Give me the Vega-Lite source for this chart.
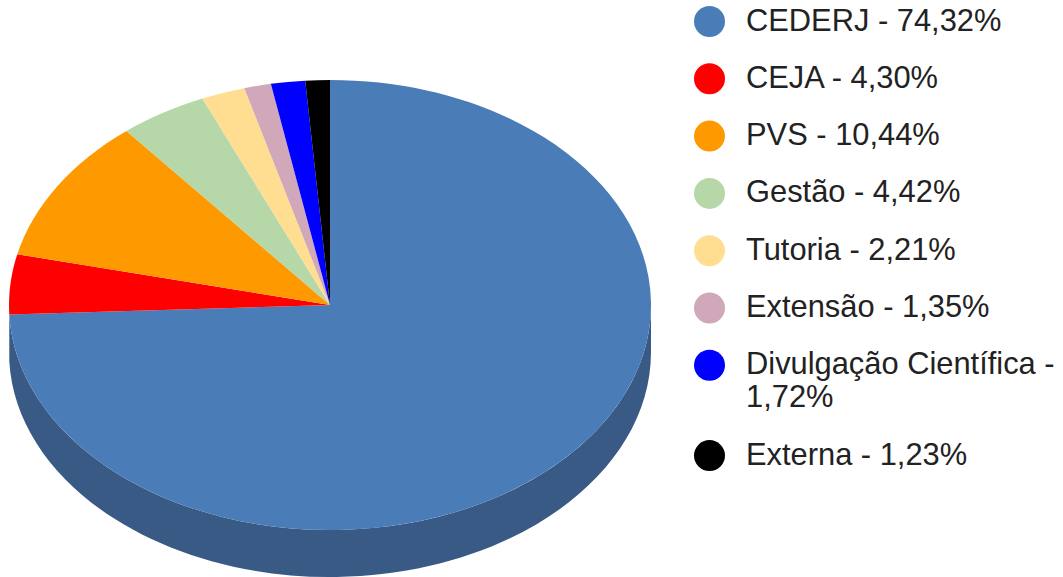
{
  "$schema": "https://vega.github.io/schema/vega-lite/v6.json",
  "width": 1063,
  "height": 577,
  "padding": 0,
  "autosize": {"type": "none"},
  "background": "white",
  "view": {"stroke": null},
  "data": {"values": [
    {"order": 1, "label": "CEDERJ - 74,32%", "value": 74.32},
    {"order": 2, "label": "CEJA - 4,30%", "value": 4.30},
    {"order": 3, "label": "PVS - 10,44%", "value": 10.44},
    {"order": 4, "label": "Gestão - 4,42%", "value": 4.42},
    {"order": 5, "label": "Tutoria - 2,21%", "value": 2.21},
    {"order": 6, "label": "Extensão - 1,35%", "value": 1.35},
    {"order": 7, "label": "Divulgação Científica - 1,72%", "value": 1.72},
    {"order": 8, "label": "Externa - 1,23%", "value": 1.23}
  ]},
  "transform": [
    {"joinaggregate": [{"op": "sum", "field": "value", "as": "total"}]},
    {"window": [{"op": "sum", "field": "value", "as": "cum"}], "sort": [{"field": "order", "order": "ascending"}], "frame": [null, 0]},
    {"calculate": "2*PI*(datum.cum-datum.value)/datum.total", "as": "t0"},
    {"calculate": "2*PI*datum.cum/datum.total", "as": "t1"},
    {"calculate": "321*sin(datum.t0)", "as": "x0"},
    {"calculate": "-225*cos(datum.t0)", "as": "y0"},
    {"calculate": "321*sin(datum.t1)", "as": "x1"},
    {"calculate": "-225*cos(datum.t1)", "as": "y1"},
    {"calculate": "'M0,0L'+datum.x0+','+datum.y0+'A321,225 0 '+(datum.t1-datum.t0>PI?1:0)+' 1 '+datum.x1+','+datum.y1+'Z'", "as": "top"},
    {"calculate": "'M321,0A321,225 0 0 1 '+datum.x1+','+datum.y1+'L'+datum.x1+','+(datum.y1+47)+'A321,225 0 0 0 321,47Z'", "as": "side"}
  ],
  "encoding": {
    "x": {"datum": 0, "type": "quantitative", "scale": {"domain": [-330, 733], "nice": false, "zero": false}, "axis": null},
    "y": {"datum": 0, "type": "quantitative", "scale": {"domain": [-272, 305], "nice": false, "zero": false}, "axis": null}
  },
  "layer": [
    {
      "transform": [{"filter": "datum.order === 1"}],
      "mark": {"type": "point", "filled": true, "opacity": 1, "size": 4, "fill": "#385a85", "stroke": null},
      "encoding": {
        "shape": {"field": "side", "type": "nominal", "scale": null, "legend": null}
      }
    },
    {
      "mark": {"type": "point", "filled": true, "opacity": 1, "size": 4, "stroke": null},
      "encoding": {
        "shape": {"field": "top", "type": "nominal", "scale": null, "legend": null},
        "color": {
          "field": "label",
          "type": "nominal",
          "sort": {"field": "order", "order": "ascending"},
          "scale": {
            "domain": ["CEDERJ - 74,32%", "CEJA - 4,30%", "PVS - 10,44%", "Gestão - 4,42%", "Tutoria - 2,21%", "Extensão - 1,35%", "Divulgação Científica - 1,72%", "Externa - 1,23%"],
            "range": ["#4a7cb8", "#ff0000", "#ff9900", "#b6d7a8", "#ffdd91", "#d0a8ba", "#0000ff", "#000000"]
          },
          "legend": {
            "title": null,
            "orient": "none",
            "legendX": 694,
            "legendY": 6,
            "symbolType": "circle",
            "symbolSize": 961,
            "symbolStrokeWidth": 0,
            "symbolOpacity": 1,
            "labelFont": "Liberation Sans",
            "labelFontSize": 30.85,
            "labelColor": "#222222",
            "labelOffset": 21,
            "labelLimit": 400,
            "rowPadding": 25.3,
            "encoding": {"labels": {"update": {"lineHeight": {"value": 29}}}},
            "labelExpr": "indexof(datum.label,'Divulga')===0 ? ['Divulgação Científica -','1,72%'] : datum.label"
          }
        }
      }
    }
  ]
}
